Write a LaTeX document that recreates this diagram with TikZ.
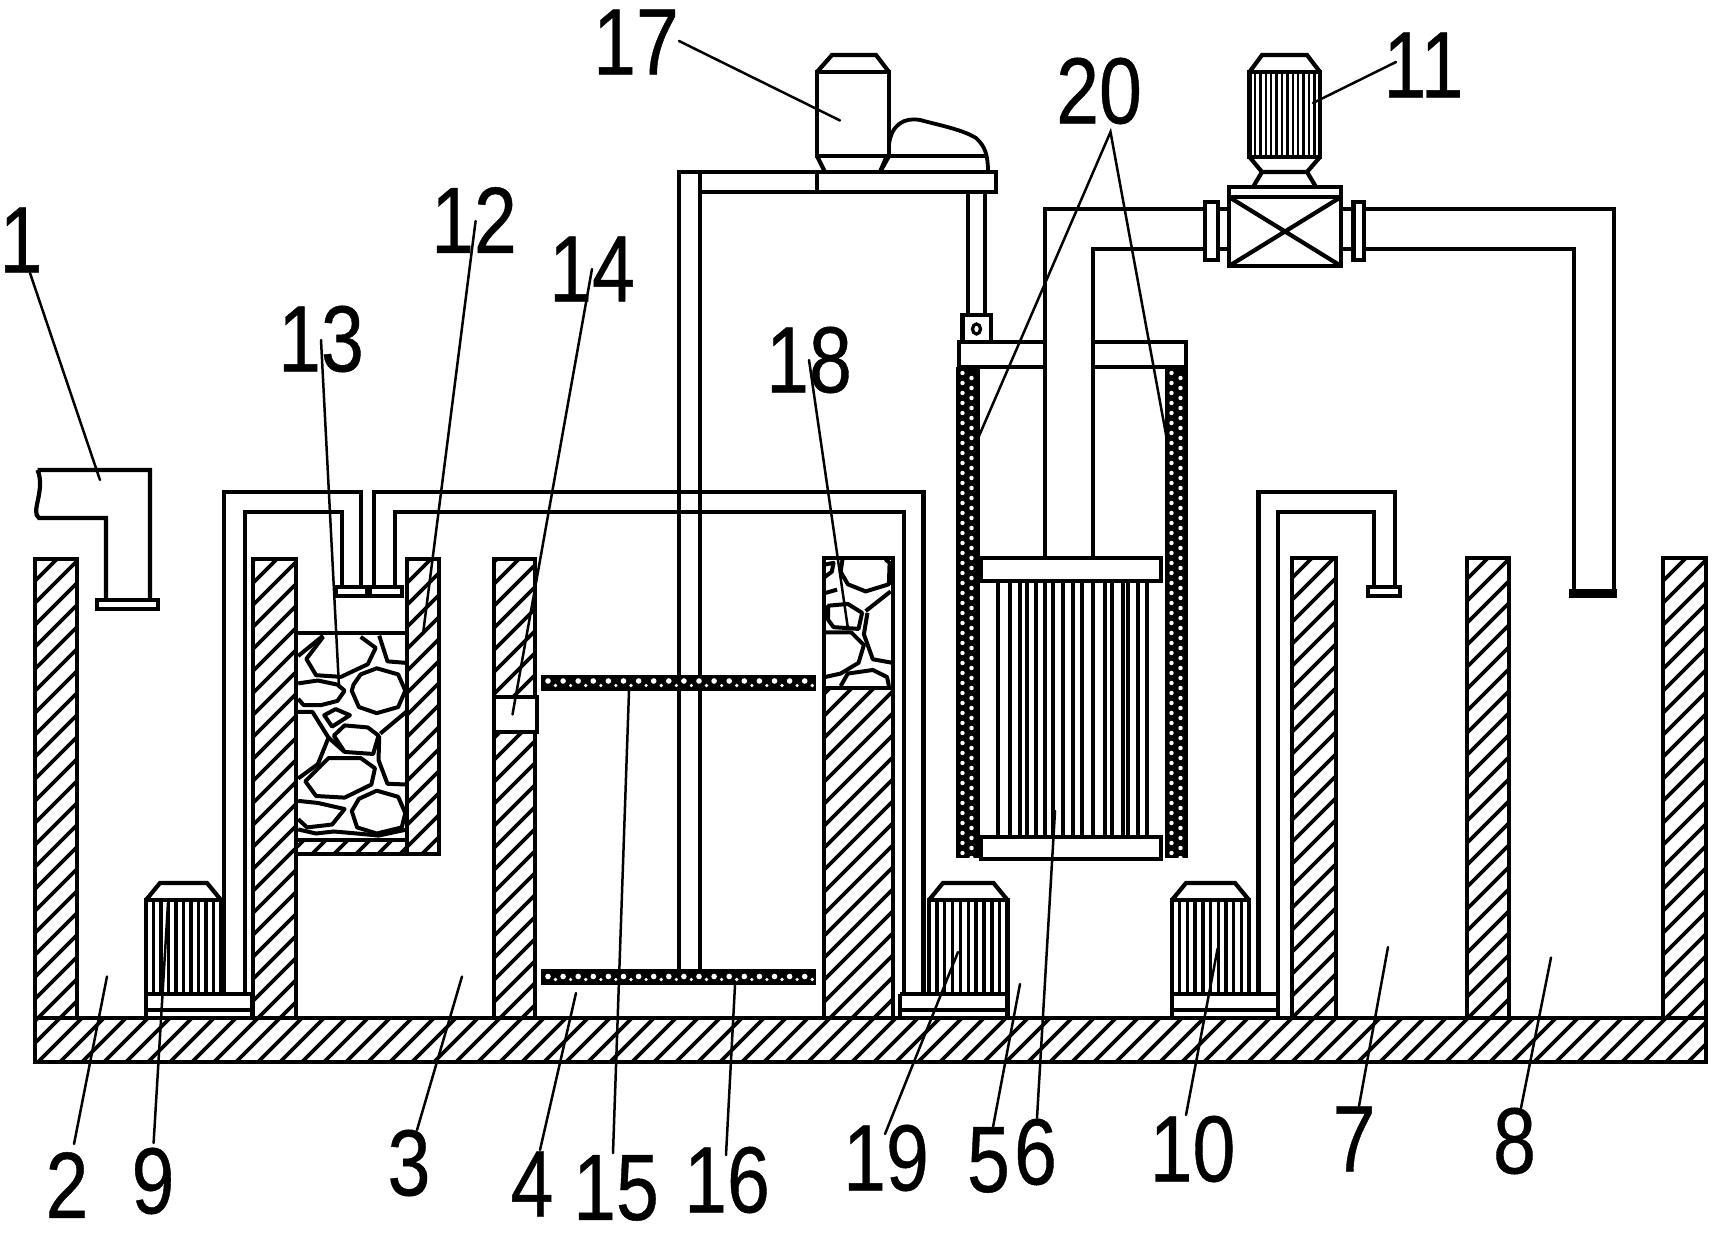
\documentclass[tikz,border=0pt]{standalone}
\usepackage{fontspec}
\usepackage{graphicx}
\setmainfont{Liberation Sans}
\newfontfamily\labfont{Liberation Sans}[FakeBold=0.5]
\tikzset{
  ln/.style={line width=2.1pt,line join=miter,line cap=butt},
  fin/.style={line width=1.7pt},
  leader/.style={line width=1.25pt,line cap=round},
  hatch/.style={line width=1.9pt},
  lab/.style={inner sep=0pt,font=\labfont\fontsize{47}{50}\selectfont},
  rock/.style={line width=2pt,line join=round},
  dot/.style={fill=white,draw=none}
}
\newcommand{\tag}[7]{%
  \node[lab] (n#1) at (#3,#4) {\scalebox{.82}[1]{#2}};
  \coordinate (a#1) at (#5,#6);
  \coordinate (b#1) at #7;
  \draw[leader] (a#1) -- (b#1);
}
\begin{document}
\begin{tikzpicture}[x=0.5pt,y=-0.5pt]
\path[fill=white,use as bounding box] (0,0) rectangle (1723,1234);

% hatching
\begin{scope}
  \clip (35,559) rectangle (77,1018)
        (253,559) rectangle (296,1018)
        (407,559) rectangle (439,854)
        (296,840) rectangle (407,854)
        (494,559) rectangle (535,697)
        (494,732) rectangle (535,1018)
        (824,688) rectangle (893,1018)
        (1292,558) rectangle (1336,1018)
        (1467,558) rectangle (1509,1018)
        (1663,558) rectangle (1706,1018)
        (35,1018) rectangle (1706,1062);
  \foreach \k in {25,...,130}{
    \draw[hatch] ({\k*22-540},540) -- ({\k*22-1070},1070);
  }
\end{scope}
\foreach \xa/\ya/\xb/\yb in {35/559/77/1018,253/559/296/1018,494/559/535/697,494/732/535/1018,
  1292/558/1336/1018,1467/558/1509/1018,1663/558/1706/1018,824/558/893/1018,35/1018/1706/1062}{
  \draw[ln] (\xa,\ya) rectangle (\xb,\yb);
}
\draw[ln] (824,688) -- (893,688);
% opening in the wall
\draw[ln] (494,697) rectangle (537,732);
% filter box 12
\draw[ln] (296,633) -- (407,633);
\draw[ln] (296,854) -- (439,854) -- (439,559) -- (407,559) -- (407,854);
\draw[ln] (296,840) -- (407,840);

% stones 13
\begin{scope}
\clip (296,633) rectangle (407,840);
\begin{scope}[shift={(0,450)},xscale=0.3571,yscale=0.408]
\draw[rock] (835,505)--(905,455);
\draw[rock] (905,458)--(858,512)--(885,552)--(955,556)--(1030,525)--(1052,485)--(1010,458);
\draw[rock] (1062,455)--(1085,518)--(1140,522);
\draw[rock] (990,575)--(1010,550)--(1055,535)--(1115,550)--(1135,590)--(1115,630)--(1055,645)--(1005,630)--(985,590)--cycle;
\draw[rock] (835,572)--(890,565)--(945,575)--(965,590)--(945,615)--(900,625)--(850,625)--(835,610);
\draw[rock] (908,650)--(940,635)--(980,650)--(930,678)--cycle;
\draw[rock] (835,642)--(875,642)--(920,705)--(890,770)--(835,805);
\draw[rock] (935,700)--(965,675)--(1030,680)--(1060,700)--(1045,745)--(965,740)--cycle;
\draw[rock] (920,705)--(965,740);
\draw[rock] (1065,695)--(1140,640);
\draw[rock] (1062,700)--(1060,760)--(1085,818)--(1140,820);
\draw[rock] (920,755)--(1010,755)--(1050,780)--(1040,820)--(965,852)--(885,848)--(855,812)--cycle;
\draw[rock] (835,860)--(890,865)--(965,880)--(930,918)--(860,925)--(835,905);
\draw[rock] (985,885)--(1005,855)--(1055,835)--(1115,850)--(1135,890)--(1125,925)--(1055,940)--(1000,925)--cycle;
\draw[rock] (835,930)--(885,940)--(935,935)--(1000,940)--(1060,945)--(1140,930);
\end{scope}
\end{scope}

% stones 18
\begin{scope}
\clip (824,558) rectangle (893,688);
\begin{scope}[shift={(480,520)},xscale=0.3571,yscale=0.3571]
\draw[rock] (1015,110)--(1010,145)--(1030,180)--(1080,200)--(1145,180)--(1147,120)--(1135,110);
\draw[rock] (965,125)--(990,120)--(985,145)--(965,160);
\draw[rock] (965,205)--(1000,195);
\draw[rock] (975,240)--(1030,235)--(1070,260)--(1060,305)--(990,300)--(975,280)--cycle;
\draw[rock] (1080,255)--(1150,200);
\draw[rock] (1085,260)--(1075,320)--(1100,390)--(1155,400);
\draw[rock] (965,315)--(1040,315)--(1075,350)--(1060,400)--(1010,430)--(965,440);
\draw[rock] (1010,465)--(1030,430)--(1100,420)--(1140,440)--(1145,465);
\end{scope}
\end{scope}

% inlet pipe 1
\draw[ln] (37.5,470) -- (150,470) -- (150,600) (106,600) -- (106,518) -- (39,518)
   .. controls (30,512) and (46,490) .. (37.5,470);
\draw[ln] (97,600) rectangle (158,609);

% pipes across the tanks
\draw[ln] (224,993) -- (224,492) -- (361,492) -- (361,589);
\draw[ln] (245,993) -- (245,512) -- (342,512) -- (342,588);
\draw[ln] (374,589) -- (374,492) -- (923.5,492) -- (923.5,994);
\draw[ln] (395,588) -- (395,512) -- (904,512) -- (904,994);
\draw[ln] (336,587) rectangle (367,596) (370,587) rectangle (402,596);

% pipe from pump 10
\draw[ln] (1258.5,994) -- (1258.5,492) -- (1395,492) -- (1395,587);
\draw[ln] (1278,994) -- (1278,512) -- (1374,512) -- (1374,587);
\draw[ln] (1368,587) rectangle (1400,596);

% agitator
\draw[ln] (679,969) -- (679,172) -- (996,172) -- (996,192) -- (700,192);
\draw[ln] (700,969) -- (700,172);
\draw[ln] (817,172) -- (817,192);
\foreach \ya/\yb/\yc/\yd in {675/691/681/685.5,969/985/976.5/979.5}{
  \fill (541,\ya) rectangle (816,\yb);
  \foreach \i in {0,...,17}{
    \fill[dot] ({548+\i*15.1},\yc) circle (2.8);
    \fill[dot] ({555.5+\i*15.1},\yd) circle (1.8);
  }
}

% motor 17 with cover
\draw[ln] (817,72) -- (832,55) -- (876,55) -- (889,72) (889,156) -- (880,172) (817,156) -- (825,172);
\draw[ln] (817,72) rectangle (889,156);
\draw[line width=1.9pt] (889,145) .. controls (891,125) and (904,117) .. (920,120)
  .. controls (943,126) and (963,130) .. (976,138)
  .. controls (985,146) and (988,155) .. (988,172);
\draw[ln] (889,156) -- (988,156);
\draw[ln] (886,158) -- (880,172);

% rod and clevis
\draw[ln] (968,192) -- (968,315) (985,192) -- (985,315);
\draw[ln] (962.5,315) rectangle (991,342);
\draw[line width=1.6pt] (976.5,329) ellipse (4 and 5);

% top plate
\draw[ln] (1045,342) -- (959,342) -- (959,367) -- (1045,367);
\draw[ln] (1093,342) -- (1186,342) -- (1186,367) -- (1093,367);

% perforated side walls
\foreach \xa/\xb in {956/980,1165/1188}{
  \fill (\xa,367) rectangle (\xb,858);
  \foreach \i in {0,...,48}{
    \fill[dot] ({\xa+6.5},{373+\i*10}) circle (2.2);
    \fill[dot] ({\xa+15.5},{378+\i*10}) circle (2.2);
  }
}

% membrane pipes
\draw[ln] (1045,558) -- (1045,209) -- (1205,209);
\draw[ln] (1093,558) -- (1093,249) -- (1205,249);
\draw[ln] (1205,202) rectangle (1218,260);
\draw[ln] (1218,209) -- (1229,209) (1218,249) -- (1229,249);
\draw[ln] (1229,187) rectangle (1341,266);
\draw[ln] (1229,197) -- (1341,197);
\draw[ln] (1229,197) -- (1341,266) (1341,197) -- (1229,266);
\draw[ln] (1341,209) -- (1353.5,209) (1341,249) -- (1353.5,249);
\draw[ln] (1353.5,202) rectangle (1364,260);
\draw[ln] (1364,209) -- (1614,209) -- (1614,590);
\draw[ln] (1364,249) -- (1574,249) -- (1574,590);
\fill (1569,589) rectangle (1617,598);

% motor 11
\draw[ln] (1249.5,72) -- (1262,55) -- (1307,55) -- (1320,72);
\draw[ln] (1249.5,72) rectangle (1320,157);
\foreach \i in {1,...,12}{
  \draw[line width=1.2pt] ({1249.5+\i*5.4},72) -- ({1249.5+\i*5.4},157);
}
\draw[ln] (1249.5,157) -- (1262,172) -- (1307,172) -- (1320,157);
\draw[ln] (1262,172) -- (1253,187) (1307,172) -- (1316,187);

% membrane module
\draw[ln] (981,558) rectangle (1161,581);
\draw[ln] (981,837) rectangle (1161,859);
\foreach \x in {998,1010,1020,1027,1036,1045,1053,1063,1073,1082,1093,1105,1112,1123,1128,1138,1147}{
  \draw[line width=2pt] (\x,581) -- (\x,837);
}

% pumps 9, 19, 10
\foreach \xa/\xb/\bl/\br in {146/221/146/252,929/1007.5/900/1007.5,1172/1249/1172/1278}{
  \draw[ln] (\xa,900) -- ({\xa+14},883) -- ({\xb-14},883) -- (\xb,900);
  \draw[ln] (\xa,900) rectangle (\xb,994);
  \foreach \t in {1,...,9}{
    \draw[fin] ({\xa+\t*(\xb-\xa)/10},900) -- ({\xa+\t*(\xb-\xa)/10},994);
  }
  \draw[ln] (\bl,994) -- (\br,994) -- (\br,1018) (\bl,1018) -- (\bl,994);
  \draw[ln] (\bl,1010) -- (\br,1010);
}

% labels and leaders
\tag{l1}{1}{21}{240}{30}{273}{(100,480)}
\tag{l17}{17}{636}{42}{679}{41}{(840,120.5)}
\tag{l12}{12}{474}{220}{475.6}{221}{(423,634)}
\tag{l14}{14}{592}{269}{592}{269}{(512.5,714.5)}
\tag{l13}{13}{321}{339}{321}{340}{(339,687)}
\tag{l18}{18}{809}{360}{809}{360}{(848,629)}
\tag{l11}{11}{1423.5}{65}{1396}{62}{(1313,103)}
\node[lab] (nl20) at (1099,91) {\scalebox{.82}[1]{20}};
\coordinate (a20) at (1110.5,132);
\coordinate (b20) at (979,436);
\coordinate (c20) at (1167,440);
\draw[leader] (b20) -- (a20) -- (c20);
\tag{l2}{2}{67}{1185}{74}{1144}{(107,976.5)}
\tag{l9}{9}{153}{1181}{153.6}{1143}{(168,903)}
\tag{l3}{3}{409}{1163}{417}{1130}{(462,976.5)}
\tag{l4}{4}{532}{1184}{540}{1150}{(576,993)}
\tag{l15}{15}{616}{1188}{613}{1153}{(629,691)}
\tag{l16}{16}{727}{1180}{726}{1155}{(735,985)}
\tag{l19}{19}{886}{1158}{885}{1134}{(958,952)}
\tag{l5}{5}{988.5}{1160}{993}{1127}{(1020,984)}
\tag{l6}{6}{1035.5}{1152}{1037}{1118}{(1055,811)}
\tag{l10}{10}{1192.5}{1149}{1186}{1115}{(1217.6,948.6)}
\tag{l7}{7}{1354}{1139}{1359}{1106}{(1388,947)}
\tag{l8}{8}{1514.5}{1141}{1521}{1108}{(1551,957.5)}
\end{tikzpicture}
\end{document}
